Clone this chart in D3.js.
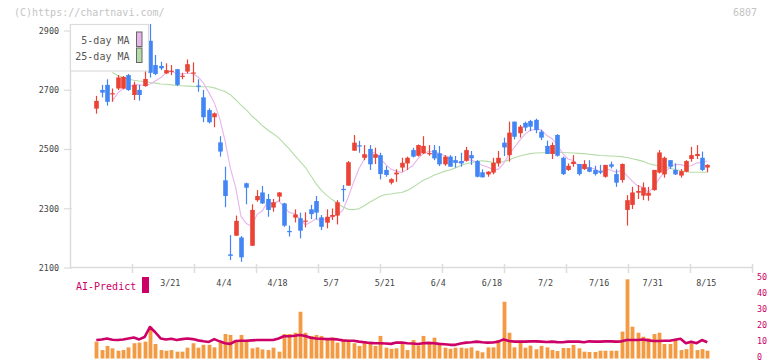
<!DOCTYPE html>
<html><head><meta charset="utf-8">
<script src="https://cdn.jsdelivr.net/npm/d3@7"></script>
<style>html,body{margin:0;padding:0;background:#fff}svg{display:block}</style>
</head><body><svg id="c" width="772" height="361"></svg>
<script>
// ---- data ----
const stockCode = "6807";
const opens  = [2638,2701,2718,2688,2706,2706,2751,2684,2701,2714,2867,2785,2782,2757,2763,2771,2747,2763,2757,2716,
                2676,2633,2609,2524,2396,2146,2209,2203,2386,2175,2329,2355,2333,2304,2341,2318,2225,2270,2268,2257,
                2298,2326,2271,2253,2273,2277,2367,2378,2496,2514,2472,2502,2472,2481,2431,2388,2416,2439,2453,2498,
                2479,2487,2486,2498,2487,2450,2476,2464,2461,2462,2481,2461,2423,2416,2422,2453,2523,2481,2594,2555,
                2590,2596,2600,2560,2512,2485,2549,2472,2431,2451,2451,2434,2440,2431,2427,2408,2450,2417,2397,2296,
                2313,2354,2344,2344,2363,2422,2416,2464,2431,2412,2425,2468,2478,2472,2439];
const highs  = [2681,2718,2737,2706,2751,2748,2755,2729,2718,2768,2924,2819,2796,2791,2785,2772,2759,2804,2794,2737,
                2701,2639,2625,2545,2442,2211,2277,2208,2388,2315,2363,2377,2350,2333,2356,2320,2243,2298,2287,2288,
                2313,2343,2279,2298,2301,2329,2380,2461,2549,2529,2515,2515,2506,2489,2444,2403,2433,2472,2476,2506,
                2517,2545,2515,2515,2512,2481,2481,2478,2489,2509,2495,2464,2433,2427,2472,2495,2540,2594,2594,2583,
                2594,2600,2604,2566,2530,2524,2552,2476,2453,2481,2451,2464,2464,2445,2448,2448,2459,2433,2453,2346,
                2374,2380,2389,2374,2431,2498,2476,2464,2453,2434,2464,2509,2515,2493,2450];
const lows   = [2621,2676,2648,2661,2701,2703,2698,2667,2665,2712,2743,2751,2768,2755,2751,2714,2737,2757,2726,2695,
                2592,2588,2575,2476,2305,2127,2209,2121,2315,2175,2324,2316,2273,2290,2324,2239,2206,2254,2200,2237,
                2265,2264,2228,2234,2262,2247,2324,2378,2496,2489,2464,2431,2451,2399,2408,2382,2391,2425,2431,2473,
                2476,2485,2479,2464,2444,2445,2442,2439,2442,2459,2448,2406,2406,2408,2416,2442,2478,2459,2534,2540,
                2562,2562,2555,2532,2485,2468,2476,2414,2428,2442,2412,2431,2423,2412,2417,2405,2436,2374,2388,2243,
                2299,2333,2329,2327,2361,2419,2405,2434,2414,2405,2423,2459,2468,2427,2423];
const closes = [2664,2692,2661,2690,2743,2745,2701,2718,2684,2738,2759,2755,2774,2768,2766,2718,2749,2788,2760,2712,
                2609,2592,2622,2493,2343,2141,2259,2136,2371,2296,2343,2318,2296,2322,2355,2243,2221,2281,2226,2260,
                2282,2287,2239,2273,2279,2322,2364,2457,2523,2511,2484,2450,2484,2417,2414,2400,2422,2455,2472,2476,
                2515,2512,2488,2470,2450,2476,2442,2455,2453,2498,2470,2408,2406,2425,2455,2472,2507,2557,2543,2577,
                2574,2577,2566,2540,2485,2515,2479,2417,2445,2459,2417,2451,2425,2417,2422,2448,2442,2388,2451,2329,
                2355,2360,2372,2354,2431,2490,2472,2442,2416,2427,2461,2481,2485,2431,2448];
const ma5    = [null,null,null,2664,2690,2706,2708,2719,2718,2717,2720,2731,2742,2759,2764,2756,2755,2758,2756,2745,
                2724,2692,2659,2606,2532,2438,2372,2274,2250,2241,2281,2293,2325,2315,2327,2307,2287,2284,2265,2246,
                2254,2267,2259,2268,2272,2280,2295,2339,2389,2435,2468,2485,2490,2469,2450,2433,2427,2422,2433,2445,
                2468,2486,2493,2492,2487,2479,2465,2459,2455,2465,2464,2457,2447,2441,2433,2433,2453,2483,2507,2531,
                2552,2566,2567,2567,2548,2537,2517,2487,2468,2463,2443,2438,2439,2434,2426,2433,2431,2423,2430,2412,
                2393,2377,2373,2354,2374,2401,2424,2438,2450,2449,2444,2445,2454,2457,2461];
const ma25   = [null,null,null,2760,2750,2743,2738,2734,2731,2729,2726,2724,2721,2720,2718,2716,2715,2714,2713,2712,
                2712,2712,2708,2702,2696,2685,2668,2650,2634,2613,2598,2580,2566,2553,2540,2521,2502,2480,2460,2440,
                2412,2385,2362,2345,2331,2318,2307,2298,2297,2300,2310,2322,2332,2342,2348,2350,2353,2355,2362,2372,
                2384,2396,2404,2413,2420,2427,2431,2438,2446,2452,2456,2460,2462,2460,2456,2456,2459,2465,2472,2478,
                2482,2486,2488,2489,2489,2490,2491,2490,2489,2488,2487,2486,2484,2482,2480,2479,2478,2477,2476,2473,
                2469,2465,2460,2453,2448,2445,2441,2437,2432,2428,2425,2423,2423,2423,2423];
const volume = [10.6,5.3,7.9,6.4,4.9,5.3,7.0,9.6,10.0,10.6,20.0,9.1,5.3,4.9,5.3,4.3,4.3,6.8,9.6,6.8,
                8.6,8.6,7.0,10.0,15.4,14.8,10.6,14.8,10.6,6.4,7.0,5.7,5.3,6.8,4.3,15.4,15.4,16.2,29.4,16.2,
                14.2,14.8,14.2,11.6,13.3,10.0,11.6,11.6,9.6,7.9,11.0,10.0,7.9,14.2,6.8,6.1,6.4,9.6,5.3,11.6,
                8.2,14.2,9.6,13.1,9.6,6.8,6.1,6.8,6.8,6.4,7.0,4.9,3.9,7.0,7.0,11.6,35.7,16.2,7.0,10.0,
                6.8,8.1,5.8,7.9,7.0,5.3,4.7,6.6,6.6,8.5,6.4,4.3,4.1,4.1,4.9,4.9,4.9,4.9,16.9,49.8,
                20.0,16.2,13.7,12.7,15.4,16.2,9.1,9.1,12.3,5.3,5.9,10.0,5.3,5.9,4.9];
const aiPredict = [11.6,12.0,12.6,11.8,11.6,12.0,12.6,13.2,12.0,13.5,19.8,16.5,12.6,12.0,12.4,11.6,12.2,12.6,12.2,11.4,
                10.8,10.4,12.2,10.8,9.6,9.2,11.0,11.2,11.2,11.4,11.6,11.6,11.6,11.6,12.6,14.0,14.0,14.3,14.8,14.2,
                13.0,12.6,12.4,12.2,12.2,12.0,11.4,11.2,11.2,10.6,10.2,9.8,9.6,9.6,9.4,9.2,10.0,10.1,9.6,9.4,
                9.1,9.6,9.8,9.6,9.2,9.0,8.6,8.6,9.4,10.0,10.2,10.6,10.2,10.0,10.1,10.6,12.0,11.0,10.6,10.6,
                10.6,10.8,10.8,10.6,10.4,10.6,10.3,10.2,10.6,10.6,10.6,10.2,10.8,10.6,10.6,10.8,10.8,10.6,10.8,11.6,
                11.6,11.6,12.0,11.4,11.0,11.0,11.2,11.2,11.8,12.4,9.6,10.6,9.6,11.6,10.2];
const xTickLabels = ["3/21","4/4","4/18","5/7","5/21","6/4","6/18","7/2","7/16","7/31","8/15"];
const xTickIndex  = [14,24,34,44,54,64,74,84,94,104,114];
const yTickValues = [2100,2300,2500,2700,2900];
const vTickValues = [0,10,20,30,40,50];
const legendLabels = ["5-day MA","25-day MA"];

// ---- drawing ----
const idx = d3.range(closes.length);
const svg = d3.select("#c");
const mono = "'DejaVu Sans Mono', 'Liberation Mono', monospace";
const x  = d3.scaleLinear().domain([0, closes.length - 1]).range([96.3, 707.3]);
const y  = d3.scaleLinear().domain([2100, 2900]).range([268, 31]);
const yv = d3.scaleLinear().domain([0, 50]).range([358.5, 279]);
const grid = d3.scaleLinear().domain([0, 11]).range([70.3, 752.3]);
const UP = "#ea4335", DOWN = "#4285f4", AXIS = "#dcdcdc";

svg.append("rect").attr("width", 772).attr("height", 361).attr("fill", "#fff");

// watermark + code
svg.append("text").attr("x", 14).attr("y", 16).attr("font-family", mono).attr("font-size", 10)
  .attr("fill", "#c4c4c4").text("(C)https://chartnavi.com/");
svg.append("text").attr("x", 757).attr("y", 16).attr("text-anchor", "end").attr("font-family", mono)
  .attr("font-size", 10).attr("fill", "#c4c4c4").text(stockCode);

// axes lines
svg.append("line").attr("x1", 70.5).attr("x2", 70.5).attr("y1", 24).attr("y2", 268)
  .attr("stroke", AXIS).attr("stroke-width", 1.5);
svg.append("line").attr("x1", 70).attr("x2", 752.5).attr("y1", 267.5).attr("y2", 267.5)
  .attr("stroke", AXIS).attr("stroke-width", 1.5);
svg.append("g").selectAll("line").data(d3.range(1, 12)).join("line")
  .attr("x1", d => Math.round(grid(d)) + 0.5).attr("x2", d => Math.round(grid(d)) + 0.5)
  .attr("y1", 264).attr("y2", 273).attr("stroke", AXIS).attr("stroke-width", 1.5);

// y axis ticks & labels
const yg = svg.append("g");
yg.selectAll("line").data(yTickValues).join("line")
  .attr("x1", 64).attr("x2", 72).attr("y1", d => y(d)).attr("y2", d => y(d))
  .attr("stroke", AXIS).attr("stroke-width", 1.2);
yg.selectAll("text").data(yTickValues).join("text")
  .attr("x", 59).attr("y", d => y(d)).attr("dy", "0.35em").attr("text-anchor", "end")
  .attr("font-family", mono).attr("font-size", 8.4).attr("fill", "#444").text(d => d);

// x labels
svg.append("g").selectAll("text").data(xTickIndex).join("text")
  .attr("x", d => x(d) - 1).attr("y", 283).attr("dy", "0.35em").attr("text-anchor", "middle")
  .attr("font-family", mono).attr("font-size", 8.4).attr("fill", "#444")
  .text((d, i) => xTickLabels[i]);

// moving averages
const line = d3.line().defined(d => d[1] != null).x(d => x(d[0])).y(d => y(d[1]));
svg.append("path").attr("d", line(idx.map(i => [i, ma25[i]])))
  .attr("fill", "none").attr("stroke", "#b5dca8").attr("stroke-width", 1.1);
svg.append("path").attr("d", line(idx.map(i => [i, ma5[i]])))
  .attr("fill", "none").attr("stroke", "#e8b4ec").attr("stroke-width", 1.1);

// candles
const cg = svg.append("g");
cg.selectAll("line").data(idx).join("line")
  .attr("x1", i => Math.round(x(i)) + 0.5).attr("x2", i => Math.round(x(i)) + 0.5)
  .attr("y1", i => y(highs[i])).attr("y2", i => y(lows[i]))
  .attr("stroke", i => closes[i] >= opens[i] ? UP : DOWN).attr("stroke-width", 1.2);
cg.selectAll("rect").data(idx).join("rect")
  .attr("x", i => Math.round(x(i)) + 0.5 - 2.3).attr("width", 4.6)
  .attr("y", i => y(Math.max(opens[i], closes[i])))
  .attr("height", i => Math.max(1.2, Math.abs(y(opens[i]) - y(closes[i]))))
  .attr("fill", i => closes[i] >= opens[i] ? UP : DOWN);

// legend
const lg = svg.append("g");
lg.append("rect").attr("x", 70.5).attr("y", 24.5).attr("width", 78).attr("height", 46.5)
  .attr("fill", "#fff").attr("stroke", "#dcdcdc").attr("stroke-width", 1.2);
const legColors = ["#e8b4ec", "#b5dca8"];
legendLabels.forEach((t, i) => {
  lg.append("text").attr("x", 129.5).attr("y", 40.5 + i * 16).attr("dy", "0.35em").attr("text-anchor", "end")
    .attr("font-family", mono).attr("font-size", 10).attr("fill", "#555").text(t);
  lg.append("rect").attr("x", 136.5).attr("y", 32 + i * 16).attr("width", 5.5).attr("height", 14.5)
    .attr("fill", legColors[i]).attr("stroke", "#666").attr("stroke-width", 1);
});

// volume bars
svg.append("g").selectAll("rect").data(idx).join("rect")
  .attr("x", i => Math.round(x(i)) + 0.5 - 1.9).attr("width", 3.8)
  .attr("y", i => yv(volume[i])).attr("height", i => yv(0) - yv(volume[i]))
  .attr("fill", "#f39a42");

// AI predict line
svg.append("path").attr("d", d3.line().x(i => x(i)).y(i => yv(aiPredict[i]))(idx))
  .attr("fill", "none").attr("stroke", "#cc0066").attr("stroke-width", 2.6).attr("stroke-linejoin", "round");

// AI legend
svg.append("text").attr("x", 76).attr("y", 286).attr("dy", "0.35em").attr("font-family", mono)
  .attr("font-size", 10).attr("fill", "#cc0066").text("AI-Predict");
svg.append("rect").attr("x", 142).attr("y", 277).attr("width", 7).attr("height", 16).attr("fill", "#cc0066");

// right axis for volume panel
svg.append("g").selectAll("text").data(vTickValues).join("text")
  .attr("x", 757).attr("y", d => yv(d) - 1.8).attr("dy", "0.35em")
  .attr("font-family", mono).attr("font-size", 8.4).attr("fill", "#cc0066").text(d => d);
</script></body></html>
